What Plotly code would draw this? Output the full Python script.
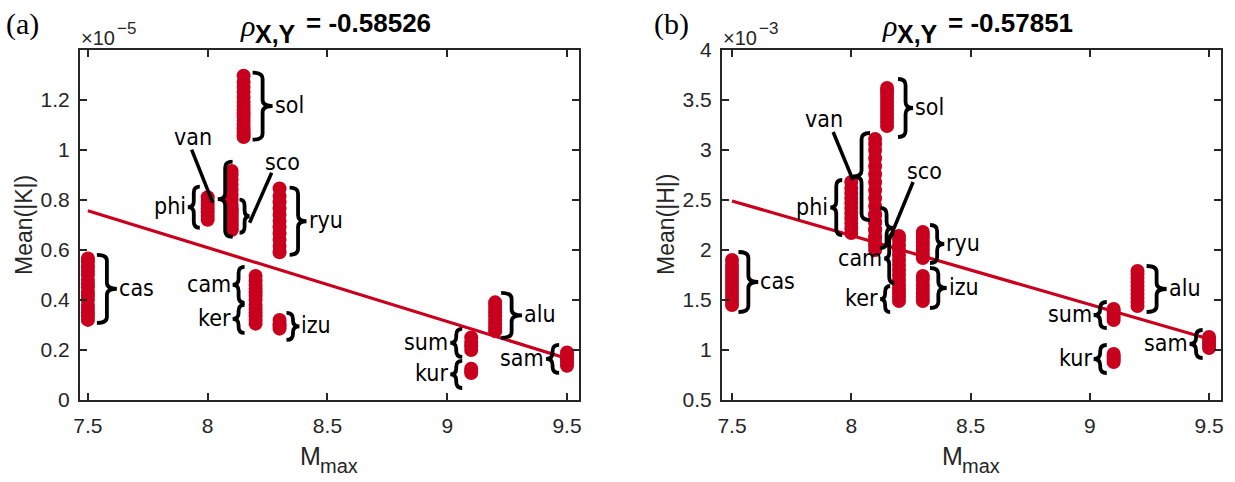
import plotly.graph_objects as go

W, H = 1235, 482

# ---- data -------------------------------------------------------------
# Maximum magnitude of each subduction zone
zone_names = ["cas", "phi", "van", "sco", "sol", "cam", "ker", "ryu", "izu", "sum", "kur", "alu", "sam"]
zone_mmax = [7.5, 8.0, 8.1, 8.1, 8.15, 8.2, 8.2, 8.3, 8.3, 9.1, 9.1, 9.2, 9.5]

# Mean(|K|), in units of 1e-5
K_cas = [0.32, 0.335, 0.35, 0.365, 0.38, 0.40, 0.415, 0.43, 0.45, 0.465, 0.48, 0.50, 0.515, 0.53, 0.55, 0.565]
K_phi = [0.72, 0.735, 0.75, 0.765, 0.78, 0.795, 0.81]
K_van = [0.68, 0.70, 0.72, 0.74, 0.76, 0.78, 0.80, 0.82, 0.84, 0.86, 0.88, 0.90, 0.915]
K_sco = [0.68, 0.695, 0.71, 0.73, 0.75, 0.765]
K_sol = [1.05, 1.06, 1.07, 1.085, 1.10, 1.115, 1.13, 1.145, 1.16, 1.175, 1.19, 1.21, 1.23, 1.25, 1.27, 1.295]
K_cam = [0.40, 0.415, 0.43, 0.445, 0.46, 0.475, 0.495]
K_ker = [0.305, 0.32, 0.335, 0.35, 0.365, 0.38]
K_ryu = [0.59, 0.615, 0.64, 0.665, 0.69, 0.715, 0.74, 0.765, 0.79, 0.815, 0.845]
K_izu = [0.285, 0.295, 0.305, 0.32]
K_sum = [0.20, 0.215, 0.23, 0.25]
K_kur = [0.108, 0.116, 0.125]
K_alu = [0.275, 0.29, 0.305, 0.32, 0.335, 0.35, 0.365, 0.38, 0.39]
K_sam = [0.137, 0.15, 0.163, 0.177, 0.19]

# Mean(|H|), in units of 1e-3
H_cas = [1.45, 1.49, 1.53, 1.57, 1.61, 1.65, 1.69, 1.73, 1.77, 1.81, 1.85, 1.90]
H_phi = [2.17, 2.22, 2.27, 2.32, 2.37, 2.42, 2.47, 2.52, 2.57, 2.62, 2.68]
H_van = [2.04, 2.12, 2.20, 2.28, 2.36, 2.44, 2.52, 2.60, 2.68, 2.76, 2.84, 2.92, 3.00, 3.06, 3.11]
H_sco = [2.00, 2.07, 2.14, 2.21, 2.28, 2.35]
H_sol = [3.24, 3.28, 3.32, 3.36, 3.40, 3.44, 3.48, 3.52, 3.56, 3.59, 3.62]
H_cam = [1.75, 1.80, 1.85, 1.90, 1.95, 2.00, 2.05, 2.10, 2.14]
H_ker = [1.49, 1.53, 1.57, 1.61, 1.65, 1.70]
H_ryu = [1.92, 1.96, 2.00, 2.04, 2.08, 2.12, 2.15, 2.18]
H_izu = [1.49, 1.53, 1.57, 1.61, 1.65, 1.70, 1.74]
H_sum = [1.30, 1.33, 1.36, 1.39, 1.41]
H_kur = [0.88, 0.90, 0.92, 0.94, 0.96]
H_alu = [1.44, 1.48, 1.52, 1.56, 1.60, 1.64, 1.68, 1.72, 1.76, 1.79]
H_sam = [1.02, 1.05, 1.08, 1.11, 1.13]

# least-squares lines, evaluated at the ends of the Mmax span
fit_x = [7.5, 9.5]
fit_K = [0.756, 0.166]
fit_H = [2.49, 1.11]
rho_K = -0.58526
rho_H = -0.57851

K_groups = [K_cas, K_phi, K_van, K_sco, K_sol, K_cam, K_ker, K_ryu, K_izu, K_sum, K_kur, K_alu, K_sam]
H_groups = [H_cas, H_phi, H_van, H_sco, H_sol, H_cam, H_ker, H_ryu, H_izu, H_sum, H_kur, H_alu, H_sam]

# ---- style --------------------------------------------------------------
RED = "#C8001E"
AX = "#262626"
SANS = "Liberation Sans, Arial, sans-serif"
SERIF = "Liberation Serif, Times New Roman, serif"
TICK_FONT = dict(family=SANS, size=21, color=AX)
LABEL_FONT = dict(family="DejaVu Sans Condensed, Noto Sans, sans-serif", size=23, color="black")


def xp(px):
    return px / W


def yp(py):
    return 1 - py / H


fig = go.Figure()

panels = [
    dict(xa="x", ya="y", groups=K_groups, fit=fit_K),
    dict(xa="x2", ya="y2", groups=H_groups, fit=fit_H),
]

for p in panels:
    xs, ys = [], []
    for m, vals in zip(zone_mmax, p["groups"]):
        xs += [m] * len(vals)
        ys += vals
    fig.add_trace(go.Scatter(
        x=xs, y=ys, mode="markers", xaxis=p["xa"], yaxis=p["ya"],
        marker=dict(size=14, color=RED, line=dict(width=0)),
        showlegend=False, hoverinfo="skip"))
    fig.add_trace(go.Scatter(
        x=fit_x, y=p["fit"], mode="lines", xaxis=p["xa"], yaxis=p["ya"],
        line=dict(color=RED, width=3.2), showlegend=False, hoverinfo="skip"))

# ---- axes ---------------------------------------------------------------
axis_style = dict(
    showline=True, linecolor=AX, linewidth=2, mirror="ticks",
    ticks="inside", ticklen=7, tickwidth=2, tickcolor=AX,
    tickfont=TICK_FONT, showgrid=False, zeroline=False, fixedrange=True,
    automargin=False,
)
x_ticks = [7.5, 8, 8.5, 9, 9.5]
x_ticktext = ["7.5", "8", "8.5", "9", "9.5"]
yK_ticks = [0, 0.2, 0.4, 0.6, 0.8, 1.0, 1.2]
yK_text = ["0", "0.2", "0.4", "0.6", "0.8", "1", "1.2"]
yH_ticks = [0.5, 1, 1.5, 2, 2.5, 3, 3.5, 4]
yH_text = ["0.5", "1", "1.5", "2", "2.5", "3", "3.5", "4"]

ydom = [yp(400), yp(50)]
fig.update_layout(
    width=W, height=H,
    margin=dict(l=0, r=0, t=0, b=0, pad=0, autoexpand=False),
    paper_bgcolor="white", plot_bgcolor="white",
    showlegend=False,
    xaxis=dict(axis_style, domain=[xp(80), xp(579)], range=[7.467, 9.55],
               tickvals=x_ticks, ticktext=x_ticktext, anchor="y", ticklabelstandoff=6),
    yaxis=dict(axis_style, domain=ydom, range=[0, 1.398],
               tickvals=yK_ticks, ticktext=yK_text, anchor="x", ticklabelstandoff=4),
    xaxis2=dict(axis_style, domain=[xp(722), xp(1221)], range=[7.458, 9.55],
                tickvals=x_ticks, ticktext=x_ticktext, anchor="y2", ticklabelstandoff=6),
    yaxis2=dict(axis_style, domain=ydom, range=[0.5, 4.0],
                tickvals=yH_ticks, ticktext=yH_text, anchor="x2", ticklabelstandoff=4),
)

# ---- braces and zone labels ----------------------------------------------
# (zone, x left, x right, y top, y bottom, kind)
braces_K = [
    ("sol", 8.1875, 8.271, 1.308, 1.040, "}"),
    ("phi", 7.917, 7.967, 0.852, 0.688, "{"),
    ("van", 8.042, 8.104, 0.952, 0.652, "{"),
    ("sco", 8.133, 8.175, 0.800, 0.668, "}"),
    ("ryu", 8.342, 8.4125, 0.848, 0.580, "}"),
    ("cas", 7.5375, 7.621, 0.580, 0.308, "}"),
    ("cam", 8.104, 8.154, 0.532, 0.388, "{"),
    ("ker", 8.104, 8.154, 0.380, 0.268, "{"),
    ("izu", 8.329, 8.383, 0.348, 0.240, "}"),
    ("alu", 9.225, 9.3125, 0.428, 0.248, "}"),
    ("sum", 9.0125, 9.0625, 0.284, 0.172, "{"),
    ("kur", 9.0125, 9.0625, 0.156, 0.048, "{"),
    ("sam", 9.4125, 9.467, 0.220, 0.108, "{"),
]
braces_H = [
    ("sol", 8.196, 8.259, 3.71, 3.13, "}"),
    ("van", 8.0075, 8.0785, 3.17, 2.30, "{"),
    ("phi", 7.912, 7.962, 2.70, 2.15, "{"),
    ("sco", 8.121, 8.175, 2.42, 2.02, "}"),
    ("cam", 8.138, 8.180, 2.16, 1.67, "{"),
    ("ker", 8.121, 8.163, 1.64, 1.38, "{"),
    ("ryu", 8.330, 8.390, 2.25, 1.87, "}"),
    ("izu", 8.330, 8.400, 1.82, 1.42, "}"),
    ("cas", 7.527, 7.610, 1.98, 1.38, "}"),
    ("alu", 9.238, 9.322, 1.84, 1.38, "}"),
    ("sum", 9.016, 9.071, 1.48, 1.22, "{"),
    ("kur", 9.016, 9.071, 1.05, 0.77, "{"),
    ("sam", 9.418, 9.473, 1.20, 0.92, "{"),
]
# zones whose label sits away from the brace, joined by a leader line
free_K = {"van": ((7.9375, 1.052), (7.933, 1.00), (8.021, 0.788)),
          "sco": ((8.3125, 0.952), (8.267, 0.908), (8.175, 0.708))}
free_H = {"van": ((7.887, 3.31), (7.924, 3.18), (8.007, 2.70)),
          "sco": ((8.305, 2.79), (8.259, 2.68), (8.150, 2.05))}

shapes, annotations = [], []


def brace_path(x0, x1, yt, yb, kind, px_per_y):
    h = min(6.0 / px_per_y, (yt - yb) / 4.5)
    ym = (yt + yb) / 2
    xs = (x0 + x1) / 2
    xe, xt = (x0, x1) if kind == "}" else (x1, x0)
    return (f"M{xe},{yt} Q{xs},{yt} {xs},{yt - h} L{xs},{ym + h} "
            f"Q{xs},{ym} {xt},{ym} Q{xs},{ym} {xs},{ym - h} "
            f"L{xs},{yb + h} Q{xs},{yb} {xe},{yb}")


for braces, free, xa, ya, ppy in [(braces_K, free_K, "x", "y", 350 / 1.398),
                                   (braces_H, free_H, "x2", "y2", 350 / 3.5)]:
    for name, x0, x1, yt, yb, kind in braces:
        shapes.append(dict(type="path", xref=xa, yref=ya,
                           path=brace_path(x0, x1, yt, yb, kind, ppy),
                           line=dict(color="black", width=3.8), layer="above"))
        if name in free:
            (tx, ty), (lx0, ly0), (lx1, ly1) = free[name]
            annotations.append(dict(x=tx, y=ty, xref=xa, yref=ya, text=name,
                                    showarrow=False, font=LABEL_FONT,
                                    xanchor="center", yanchor="middle"))
            shapes.append(dict(type="line", xref=xa, yref=ya, x0=lx0, y0=ly0,
                               x1=lx1, y1=ly1, line=dict(color="black", width=3.5),
                               layer="above"))
        else:
            right = kind == "}"
            annotations.append(dict(x=x1 if right else x0, y=(yt + yb) / 2,
                                    xref=xa, yref=ya, text=name, showarrow=False,
                                    font=LABEL_FONT, xanchor="left" if right else "right",
                                    yanchor="middle", yshift=1))

# ---- titles, labels, exponents ---------------------------------------------
for off, tag_x, tag, rho, exp, ylab in [(0, 4, "(a)", rho_K, "−5", "Mean(|K|)"),
                                        (642, 652, "(b)", rho_H, "−3", "Mean(|H|)")]:
    annotations += [
        dict(x=xp(tag_x), y=yp(24), xref="paper", yref="paper",
             text=tag, showarrow=False, xanchor="left", yanchor="middle",
             font=dict(family=SERIF, size=30, color="black")),
        dict(x=xp(238 + off), y=yp(25), xref="paper", yref="paper", text="<i>ρ</i>",
             showarrow=False, xanchor="left", yanchor="middle",
             font=dict(family=SERIF, size=30, color="black")),
        dict(x=xp(253 + off), y=yp(34), xref="paper", yref="paper", text="<b>X,Y</b>",
             showarrow=False, xanchor="left", yanchor="middle",
             font=dict(family=SANS, size=25, color="black")),
        dict(x=xp(304 + off), y=yp(23), xref="paper", yref="paper",
             text=f"<b>= {rho:.5f}</b>", showarrow=False, xanchor="left", yanchor="middle",
             font=dict(family=SANS, size=26, color="black")),
        # axis exponent, drawn as base and raised power
        dict(x=xp(79 + off), y=yp(38), xref="paper", yref="paper",
             text="×10", showarrow=False, xanchor="left", yanchor="middle",
             font=dict(family=SANS, size=20, color=AX)),
        dict(x=xp(115 + off), y=yp(28), xref="paper", yref="paper",
             text=exp, showarrow=False, xanchor="left", yanchor="middle",
             font=dict(family=SANS, size=17, color=AX)),
        dict(x=xp(24 + off), y=yp(225), xref="paper", yref="paper", text=ylab,
             textangle=-90, showarrow=False, xanchor="center", yanchor="middle",
             font=dict(family=SANS, size=23, color=AX)),
        # x-axis title: M with subscript "max"
        dict(x=xp(298 + off), y=yp(456), xref="paper", yref="paper",
             text="M", showarrow=False, xanchor="left", yanchor="middle",
             font=dict(family=SANS, size=25, color=AX)),
        dict(x=xp(318 + off), y=yp(466), xref="paper", yref="paper",
             text="max", showarrow=False, xanchor="left", yanchor="middle",
             font=dict(family=SANS, size=20, color=AX)),
    ]

fig.update_layout(shapes=shapes, annotations=annotations)
fig.write_html("out.html")
